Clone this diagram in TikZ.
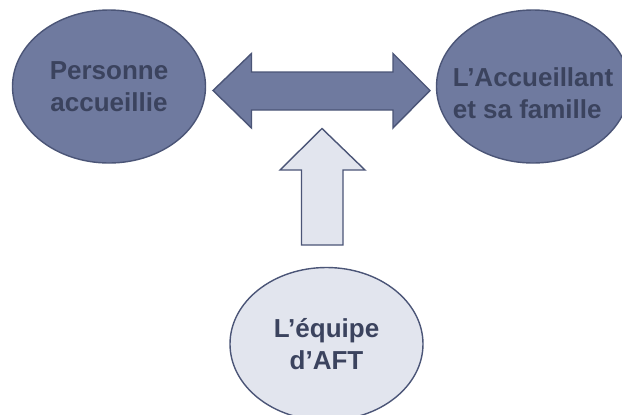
\documentclass[tikz,border=0pt]{standalone}
\usepackage{fontspec}
\setmainfont{Liberation Sans}
\usetikzlibrary{shapes.geometric}

\definecolor{darkfill}{HTML}{6F7A9F}
\definecolor{lightfill}{HTML}{E2E5EE}
\definecolor{outline}{HTML}{4B5577}
\definecolor{textcol}{HTML}{3B435E}

\tikzset{
	bubbletext/.style={text=textcol, font=\bfseries\fontsize{13}{16}\selectfont, align=center},
	bubble/.style={ellipse, draw=outline, line width=0.7pt, inner xsep=-10pt, inner ysep=0pt,
		minimum width=96.5pt, minimum height=76.5pt, bubbletext},
	blockarrow/.style={draw=outline, line width=0.7pt, line join=miter}
}

\begin{document}
\begin{tikzpicture}[x=0.5pt, y=-0.5pt]
		\clip (0,0) rectangle (622,414);
		\fill[white] (0,0) rectangle (622,414);
		\node[bubble, fill=darkfill] (personne) at (109,86.5) {Personne\\accueillie};
		\node[bubble, fill=darkfill, label={[bubbletext, align=left, yshift=-3.5pt]center:{L’Accueillant\\et sa famille}}]
			(accueillant) at (533,86.5) {};
		\node[bubble, fill=lightfill] (equipe) at (326.5,344) {L’équipe\\d’AFT};
		% double arrow between the two families
		\draw[blockarrow, fill=darkfill] (213,90.5) -- (251.5,53.5) -- (251.5,72) -- (393,72) -- (393,53.5)
			-- (430,90.5) -- (393,128) -- (393,110) -- (251.5,110) -- (251.5,128) -- cycle;
		% support arrow from the team
		\draw[blockarrow, fill=lightfill] (322,128.5) -- (365,170) -- (343,170) -- (343,245)
			-- (301.5,245) -- (301.5,170) -- (280,170) -- cycle;
	\end{tikzpicture}
\end{document}
